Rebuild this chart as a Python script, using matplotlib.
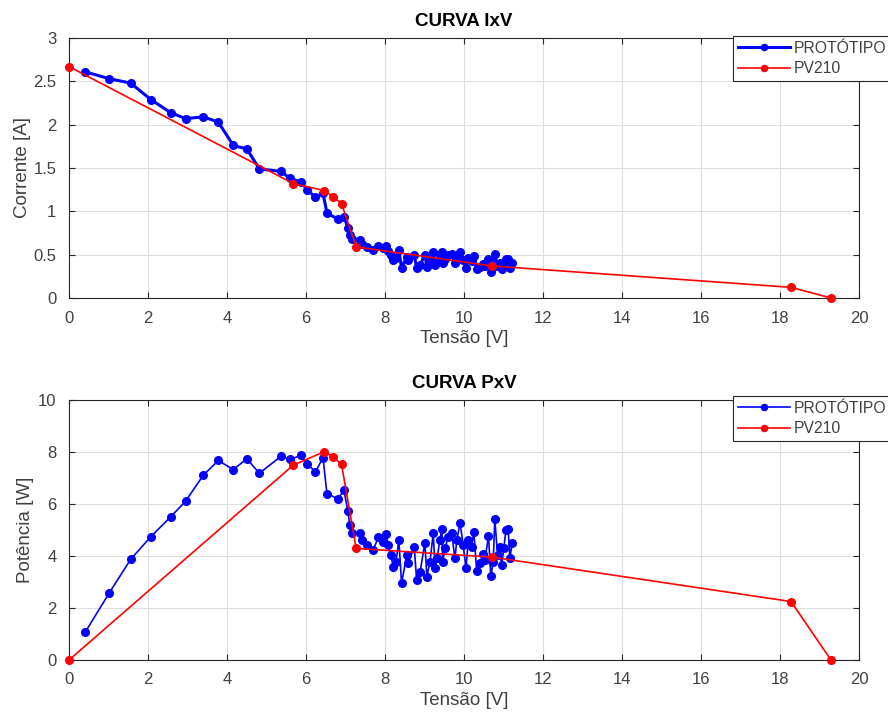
import matplotlib
matplotlib.use("Agg")
import matplotlib.pyplot as plt
import numpy as np

plt.rcParams['font.family'] = ['Liberation Sans', 'DejaVu Sans']

# medições do protótipo (tensão em V, corrente em A)
tensao_prot = [0.41, 1.02, 1.56, 2.07, 2.57, 2.95, 3.40, 3.78, 4.16, 4.50,
               4.82, 5.37, 5.59, 5.87, 6.03, 6.24, 6.43, 6.53, 6.81, 6.96,
               7.06, 7.11, 7.17, 7.37, 7.41, 7.54, 7.70, 7.83, 7.96, 8.03,
               8.08, 8.14, 8.21, 8.28, 8.35, 8.42, 8.55, 8.59, 8.74, 8.80,
               8.89, 9.01, 9.06, 9.14, 9.22, 9.27, 9.32, 9.39, 9.44, 9.46,
               9.52, 9.60, 9.69, 9.77, 9.82, 9.90, 9.98, 10.05, 10.11, 10.19,
               10.25, 10.32, 10.41, 10.47, 10.53, 10.62, 10.68, 10.74, 10.78, 10.85,
               10.91, 10.95, 11.01, 11.06, 11.12, 11.16, 11.22]
corrente_prot = [2.61, 2.53, 2.48, 2.29, 2.14, 2.07, 2.09, 2.03, 1.76, 1.72,
                 1.49, 1.46, 1.38, 1.34, 1.25, 1.16, 1.21, 0.98, 0.91, 0.94,
                 0.81, 0.73, 0.68, 0.665, 0.623, 0.586, 0.549, 0.603, 0.572, 0.604,
                 0.547, 0.496, 0.437, 0.457, 0.553, 0.350, 0.473, 0.433, 0.499, 0.350,
                 0.382, 0.501, 0.354, 0.414, 0.528, 0.381, 0.420, 0.492, 0.533, 0.400,
                 0.452, 0.494, 0.503, 0.400, 0.470, 0.533, 0.443, 0.351, 0.457, 0.428,
                 0.481, 0.331, 0.357, 0.390, 0.366, 0.449, 0.301, 0.352, 0.502, 0.372,
                 0.400, 0.333, 0.391, 0.452, 0.452, 0.350, 0.400]

# pontos do painel PV210
tensao_pv = [0.0, 5.68, 6.46, 6.68, 6.90, 7.27, 10.70, 18.28, 19.29]
corrente_pv = [2.67, 1.32, 1.24, 1.17, 1.09, 0.59, 0.37, 0.123, 0.0]

tensao_prot = np.array(tensao_prot)
corrente_prot = np.array(corrente_prot)
tensao_pv = np.array(tensao_pv)
corrente_pv = np.array(corrente_pv)
potencia_prot = tensao_prot * corrente_prot
potencia_pv = tensao_pv * corrente_pv

cor_eixo = '#262626'
cor_texto = '#404040'

fig = plt.figure(figsize=(8.88, 7.15), dpi=100)
ax1 = fig.add_axes([69 / 888, 1 - 298 / 715, 790 / 888, 260 / 715])
ax2 = fig.add_axes([69 / 888, 1 - 660 / 715, 790 / 888, 260 / 715])


def estilo(ax, ylim, yticks, ylabel, titulo, ypad):
    ax.set_xlim(0, 20)
    ax.set_ylim(*ylim)
    ax.set_xticks(range(0, 21, 2))
    ax.set_yticks(yticks)
    ax.set_yticklabels([('%g' % t) for t in yticks])
    ax.grid(True, color='#dedede', linewidth=0.8)
    ax.set_axisbelow(True)
    ax.tick_params(direction='in', top=True, right=True, length=4,
                   labelsize=12, color=cor_eixo, labelcolor=cor_texto, width=0.8)
    ax.tick_params(axis='x', pad=9)
    ax.tick_params(axis='y', pad=9)
    for s in ax.spines.values():
        s.set_color(cor_eixo)
        s.set_linewidth(0.8)
    ax.set_xlabel('Tensão [V]', fontsize=13.5, color=cor_texto, labelpad=3)
    ax.set_ylabel(ylabel, fontsize=13.5, color=cor_texto, labelpad=ypad)
    ax.set_title(titulo, fontsize=13.5, fontweight='bold', color='black', pad=9)


estilo(ax1, (0, 3), [0, 0.5, 1, 1.5, 2, 2.5, 3], 'Corrente [A]', 'CURVA IxV', 2)
estilo(ax2, (0, 10), [0, 2, 4, 6, 8, 10], 'Potência [W]', 'CURVA PxV', 3)

# curva IxV
ax1.plot(tensao_prot, corrente_prot, '-o', color='#0000ff', linewidth=2.2,
         markersize=5.5, label='PROTÓTIPO', clip_on=False, zorder=3)
ax1.plot(tensao_pv, corrente_pv, '-o', color='#ff0000', linewidth=1.2,
         markersize=5.5, label='PV210', clip_on=False, zorder=4)

# curva PxV
ax2.plot(tensao_prot, potencia_prot, '-o', color='#0000ff', linewidth=1.2,
         markersize=5.5, label='PROTÓTIPO', clip_on=False, zorder=3)
ax2.plot(tensao_pv, potencia_pv, '-o', color='#ff0000', linewidth=1.2,
         markersize=5.5, label='PV210', clip_on=False, zorder=4)

for ax, topo in ((ax1, 36), (ax2, 396)):
    leg = ax.legend(loc='upper left', bbox_to_anchor=(733 / 888, 1 - topo / 715),
                    bbox_transform=fig.transFigure, borderaxespad=0,
                    fancybox=False, framealpha=1, edgecolor=cor_eixo,
                    fontsize=11.3, handlelength=3.3, handletextpad=0.25,
                    labelspacing=0.35, borderpad=0.3, numpoints=1,
                    markerscale=0.8)
    leg.get_frame().set_linewidth(0.8)
    for t in leg.get_texts():
        t.set_color(cor_texto)

fig.savefig('out.png', dpi=100)
